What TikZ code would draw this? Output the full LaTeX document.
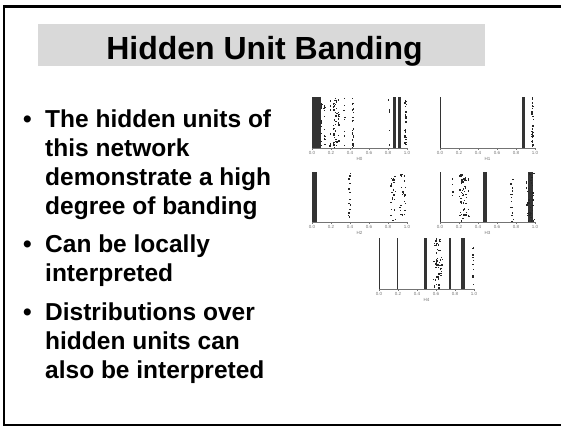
\documentclass[tikz,border=0pt]{standalone}
\usepackage{fontspec}
\setmainfont{Liberation Sans}
\newcommand\bandpts[4]{%
  \foreach \a/\b/\n in {#4} {%
    \foreach \k in {1,...,\n} {%
      \pgfmathsetmacro\px{#1+95*(\a+(\b-\a)*rnd)}%
      \pgfmathsetmacro\py{#2+(#3-#2-1.3)*rnd}%
      \fill[black!85] (\px,\py) rectangle ++(1.3,1.3);
    }}}
\newcommand\bandsolid[4]{%
  \foreach \a/\b in {#4} {%
    \fill[black!80] (#1+95*\a,#2) rectangle (#1+95*\b,#3);
  }}
\newcommand\axisplot[4]{%
  \draw[axisline] (#2,#3) -- (#2+95,#3);
  \foreach \t/\l in {0/0.0,1/0.2,2/0.4,3/0.6,4/0.8,5/1.0}{%
    \draw[axisline] (#2+19*\t,#3) -- (#2+19*\t,#3+1.5);
    \node[ticklabel] (#1t\t) at (#2+19*\t,#3+4.5) {\l};
  }
  \node[ticklabel] (#1lab) at (#2+47.5,#3+11) {#4};}
\begin{document}
\begin{tikzpicture}[x=1pt,y=-1pt,
  bullettext/.style={anchor=base west, font=\bfseries\fontsize{24.5}{29}\selectfont, align=left, inner sep=0pt},
  bulletdot/.style={anchor=base west, font=\bfseries\fontsize{24.5}{29}\selectfont, inner sep=0pt},
  titletext/.style={anchor=base, font=\bfseries\fontsize{32}{38}\selectfont, inner sep=0pt},
  ticklabel/.style={font=\fontsize{4.5}{4.5}\selectfont, text=black!55, inner sep=0pt},
  axisline/.style={draw=black!55, line width=0.4pt},
  banner/.style={fill=black!15}]
\useasboundingbox (0,0) rectangle (561,426);
% frame (open on the right)
\draw[line width=2.6pt] (566,6.5) -- (4,6.5) -- (4,425) -- (566,425);
% title banner
\fill[banner] (38,24) rectangle (485,66);
\node[titletext] (title) at (264.5,59.5) {Hidden Unit Banding};
% bullets (multi-line nodes are placed by the baseline of their last line)
\node[bulletdot] (b1dot) at (23,127) {•};
\node[bullettext] (b1) at (45,214) {The hidden units of\\this network\\demonstrate a high\\degree of banding};
\node[bulletdot] (b2dot) at (23,252) {•};
\node[bullettext] (b2) at (45,281) {Can be locally\\interpreted};
\node[bulletdot] (b3dot) at (23,320) {•};
\node[bullettext] (b3) at (45,378) {Distributions over\\hidden units can\\also be interpreted};
\pgfmathsetseed{7}
% H0
\bandsolid{312}{97}{148}{0/0.09, 0.855/0.88, 0.91/0.935}
\bandpts{312}{97}{148}{0.09/0.1/10, 0.12/0.13/12, 0.18/0.19/8, 0.22/0.23/20, 0.24/0.26/20, 0.27/0.28/12, 0.33/0.34/8, 0.42/0.43/25, 0.8/0.81/6, 0.97/0.985/30}
\axisplot{hzero}{312}{148}{H0}
% H1
\bandsolid{440}{97}{148}{0/0.008, 0.865/0.89}
\bandpts{440}{97}{148}{0.96/0.975/35}
\axisplot{hone}{440}{148}{H1}
% H2
\bandsolid{312}{172}{222}{0/0.05}
\bandpts{312}{172}{222}{0.38/0.39/10, 0.39/0.4/8, 0.82/0.88/25, 0.92/0.98/25}
\axisplot{htwo}{312}{222}{H2}
% H3
\bandsolid{440}{172}{222}{0/0.01, 0.45/0.49, 0.93/0.98}
\bandpts{440}{172}{222}{0.12/0.13/6, 0.2/0.27/50, 0.29/0.3/8, 0.73/0.77/15, 0.9/0.99/40}
\axisplot{hthree}{440}{222}{H3}
% H4
\bandsolid{379}{238}{289}{0/0.015, 0.19/0.205, 0.47/0.5, 0.74/0.76, 0.86/0.9}
\bandpts{379}{238}{289}{0.57/0.66/50, 0.98/0.99/12}
\axisplot{hfour}{379}{289}{H4}
\end{tikzpicture}
\end{document}
